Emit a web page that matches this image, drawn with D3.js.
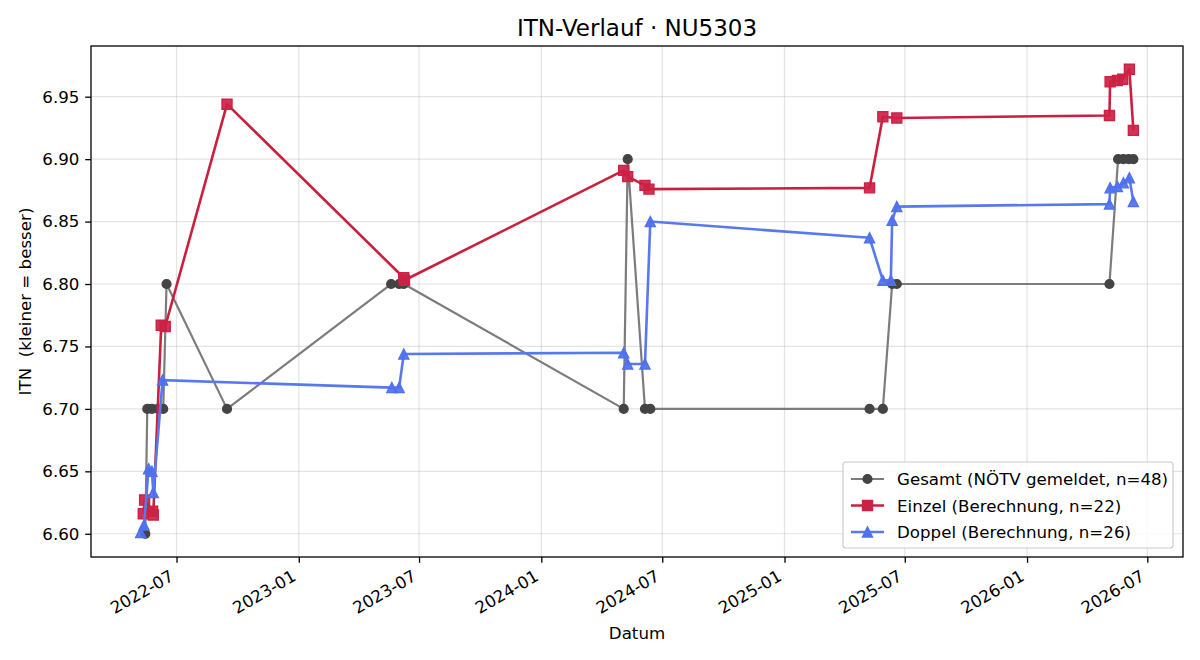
<!DOCTYPE html>
<html><head><meta charset="utf-8">
<script src="https://cdn.jsdelivr.net/npm/d3@7"></script>
<style>
body{margin:0;background:#fff}
text{font-family:"DejaVu Sans",sans-serif;fill:#000}
</style>
</head><body>
<svg id="c" width="1200" height="660"></svg>
<script>
// ---- data ----
const gesamtDates = ["2022-05-15","2022-05-18","2022-05-25","2022-06-03","2022-06-11","2022-06-16","2022-09-15",
  "2023-05-20","2023-06-01","2023-06-08","2024-05-04","2024-05-10","2024-06-05","2024-06-13",
  "2025-05-09","2025-05-29","2025-06-12","2025-06-19","2026-05-05","2026-05-18","2026-05-26","2026-06-03","2026-06-10"];
const gesamtValues = [6.60,6.70,6.70,6.70,6.70,6.80,6.70,
  6.80,6.80,6.80,6.70,6.90,6.70,6.70,
  6.70,6.70,6.80,6.80,6.80,6.90,6.90,6.90,6.90];

const einzelDates = ["2022-05-12","2022-05-14","2022-05-26","2022-05-27","2022-06-08","2022-06-14","2022-09-15",
  "2023-06-08","2023-06-09","2024-05-04","2024-05-10","2024-06-05","2024-06-11",
  "2025-05-09","2025-05-29","2025-06-19","2026-05-05","2026-05-06","2026-05-17","2026-05-25","2026-06-04","2026-06-10"];
const einzelValues = [6.616,6.627,6.618,6.615,6.767,6.766,6.944,
  6.805,6.803,6.891,6.886,6.879,6.876,
  6.877,6.934,6.933,6.935,6.962,6.963,6.964,6.972,6.923];

const doppelDates = ["2022-05-08","2022-05-13","2022-05-20","2022-05-25","2022-05-27","2022-06-10",
  "2023-05-21","2023-06-01","2023-06-08","2024-05-04","2024-05-10","2024-06-05","2024-06-13",
  "2025-05-09","2025-05-29","2025-06-10","2025-06-12","2025-06-19",
  "2026-05-05","2026-05-06","2026-05-17","2026-05-26","2026-06-04","2026-06-10"];
const doppelValues = [6.601,6.607,6.652,6.650,6.633,6.723,
  6.717,6.717,6.744,6.745,6.736,6.736,6.850,
  6.837,6.803,6.803,6.851,6.862,
  6.864,6.877,6.878,6.881,6.885,6.866];

const seriesLabels = ["Gesamt (NÖTV gemeldet, n=48)","Einzel (Berechnung, n=22)","Doppel (Berechnung, n=26)"];
const yTickValues = [6.60,6.65,6.70,6.75,6.80,6.85,6.90,6.95];
const xTickLabels = ["2022-07","2023-01","2023-07","2024-01","2024-07","2025-01","2025-07","2026-01","2026-07"];
const titleText = "ITN-Verlauf · NU5303";
const xLabelText = "Datum";
const yLabelText = "ITN  (kleiner = besser)";

// ---- layout ----
const L = 91, R = 1183, T = 46, B = 557;
const parse = d3.utcParse("%Y-%m-%d");
const parseM = d3.utcParse("%Y-%m");
const svg = d3.select("#c");

const series = [
  {dates: gesamtDates, values: gesamtValues, line: "#7c7c7c", mark: "#444444", lw: 2.2, shape: "circle"},
  {dates: einzelDates, values: einzelValues, line: "#c8203e", mark: "#cc2245", lw: 2.6, shape: "square"},
  {dates: doppelDates, values: doppelValues, line: "#5878ef", mark: "#4f70ef", lw: 2.6, shape: "triangle"}
].map((s, i) => ({...s, label: seriesLabels[i], pts: s.dates.map((d, j) => ({x: parse(d), y: s.values[j]}))}));

const allX = series.flatMap(s => s.pts.map(p => +p.x));
const allY = series.flatMap(s => s.pts.map(p => p.y));
const [x0, x1] = d3.extent(allX), [y0, y1] = d3.extent(allY);
const px = (x1 - x0) * 0.05, py = (y1 - y0) * 0.05;
const x = d3.scaleUtc().domain([new Date(x0 - px), new Date(x1 + px)]).range([L, R]);
const y = d3.scaleLinear().domain([y0 - py, y1 + py]).range([B, T]);

// grid
const xTicks = xTickLabels.map(parseM);
const grid = svg.append("g");
grid.selectAll("line.gx").data(xTicks).join("line")
  .attr("x1", d => x(d)).attr("x2", d => x(d)).attr("y1", T).attr("y2", B)
  .attr("stroke", "#b0b0b0").attr("stroke-opacity", 0.35).attr("stroke-width", 1.2);
grid.selectAll("line.gy").data(yTickValues).join("line")
  .attr("y1", d => y(d)).attr("y2", d => y(d)).attr("x1", L).attr("x2", R)
  .attr("stroke", "#b0b0b0").attr("stroke-opacity", 0.35).attr("stroke-width", 1.2);

// axes via d3
const fs = 16.67;
const xAxis = svg.append("g").attr("transform", `translate(0,${B})`)
  .call(d3.axisBottom(x).tickValues(xTicks).tickFormat(d3.utcFormat("%Y-%m")).tickSize(5.8).tickPadding(5.8));
xAxis.select(".domain").remove();
xAxis.selectAll(".tick line").attr("stroke", "#000").attr("stroke-width", 1.3);
xAxis.selectAll(".tick text")
  .attr("font-size", fs).attr("font-family", "DejaVu Sans").attr("fill", "#000")
  .attr("text-anchor", "end").attr("dy", null).attr("y", null)
  .attr("transform", "translate(-8.4,11.6) rotate(-30)")
  .attr("dy", "0.76em");

const yAxis = svg.append("g").attr("transform", `translate(${L},0)`)
  .call(d3.axisLeft(y).tickValues(yTickValues).tickFormat(d3.format(".2f")).tickSize(5.8).tickPadding(5.8));
yAxis.select(".domain").remove();
yAxis.selectAll(".tick line").attr("stroke", "#000").attr("stroke-width", 1.3);
yAxis.selectAll(".tick text").attr("font-size", fs).attr("font-family", "DejaVu Sans").attr("fill", "#000");

// series
const symbolFor = (shape) => {
  if (shape === "circle") return d3.symbol(d3.symbolCircle, Math.PI * 4.4 * 4.4);
  if (shape === "square") return d3.symbol(d3.symbolSquare, 10 * 10);
  return null;
};
const triPath = (s) => `M0,${-s}L${s},${s}L${-s},${s}Z`;

const lineGen = d3.line().x(d => x(d.x)).y(d => y(d.y));
series.forEach(s => {
  const g = svg.append("g");
  g.append("path").attr("d", lineGen(s.pts)).attr("fill", "none")
    .attr("stroke", s.line).attr("stroke-width", s.lw).attr("stroke-linejoin", "round");
  const sym = symbolFor(s.shape);
  g.selectAll("path.m").data(s.pts).join("path")
    .attr("transform", d => `translate(${x(d.x)},${y(d.y)})`)
    .attr("d", sym ? sym() : triPath(5))
    .attr("fill", s.mark).attr("stroke", s.mark).attr("stroke-width", 1.4)
    .attr("fill-opacity", s.shape === "circle" ? 1 : 0.92);
});

// frame
svg.append("rect").attr("x", L).attr("y", T).attr("width", R - L).attr("height", B - T)
  .attr("fill", "none").attr("stroke", "#000").attr("stroke-width", 1.3);

// title & labels
svg.append("text").attr("x", (L + R) / 2).attr("y", 36).attr("text-anchor", "middle")
  .attr("font-size", 23).text(titleText);
svg.append("text").attr("x", (L + R) / 2).attr("y", 639).attr("text-anchor", "middle")
  .attr("font-size", fs).text(xLabelText);
svg.append("text").attr("transform", `translate(31,${(T + B) / 2}) rotate(-90)`)
  .attr("text-anchor", "middle").attr("font-size", fs).style("white-space", "pre").text(yLabelText);

// legend
const lg = svg.append("g");
lg.append("rect").attr("x", 843).attr("y", 462).attr("width", 330).attr("height", 86)
  .attr("rx", 3).attr("fill", "#fff").attr("fill-opacity", 0.85).attr("stroke", "#cccccc").attr("stroke-width", 1.2);
series.forEach((s, i) => {
  const cy = 479 + i * 26.5;
  lg.append("line").attr("x1", 851).attr("x2", 884).attr("y1", cy).attr("y2", cy)
    .attr("stroke", s.line).attr("stroke-width", s.lw);
  const sym = symbolFor(s.shape);
  lg.append("path").attr("transform", `translate(867.5,${cy})`).attr("d", sym ? sym() : triPath(5))
    .attr("fill", s.mark).attr("stroke", s.mark).attr("stroke-width", 1.4);
  lg.append("text").attr("x", 897).attr("y", cy).attr("dy", "0.36em").attr("font-size", fs).text(s.label);
});
</script>
</body></html>
